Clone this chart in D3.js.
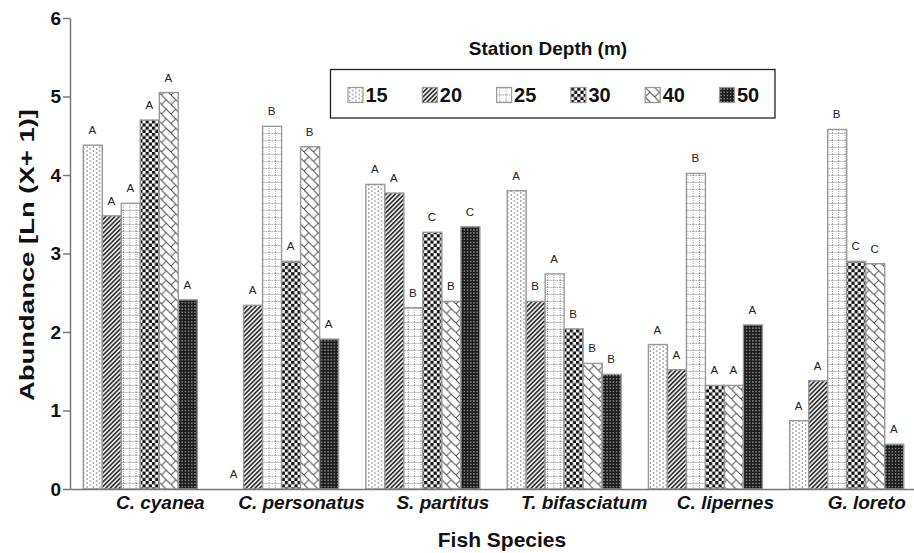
<!DOCTYPE html>
<html>
<head>
<meta charset="utf-8">
<script src="https://cdn.jsdelivr.net/npm/d3@7"></script>
<style>
  html, body { margin: 0; padding: 0; background: #fff; }
  svg { display: block; font-family: "Liberation Sans", Arial, sans-serif; }
</style>
</head>
<body>
<svg id="chart" width="914" height="553"></svg>
<script>
// ---- data ----
const species = ["C. cyanea", "C. personatus", "S. partitus", "T. bifasciatum", "C. lipernes", "G. loreto"];
const depths = ["15", "20", "25", "30", "40", "50"];
const values15 = [4.38, 0.00, 3.88, 3.80, 1.84, 0.87];
const values20 = [3.48, 2.34, 3.77, 2.39, 1.52, 1.38];
const values25 = [3.64, 4.62, 2.31, 2.74, 4.02, 4.58];
const values30 = [4.70, 2.90, 3.27, 2.04, 1.32, 2.90];
const values40 = [5.05, 4.36, 2.39, 1.60, 1.32, 2.87];
const values50 = [2.41, 1.91, 3.34, 1.46, 2.09, 0.57];
const letters15 = ["A", "A", "A", "A", "A", "A"];
const letters20 = ["A", "A", "A", "B", "A", "A"];
const letters25 = ["A", "B", "B", "A", "B", "B"];
const letters30 = ["A", "A", "C", "B", "A", "C"];
const letters40 = ["A", "B", "B", "B", "A", "C"];
const letters50 = ["A", "A", "C", "B", "A", "A"];
const yTicks = [0, 1, 2, 3, 4, 5, 6];
const yTitle = "Abundance [Ln (X+ 1)]";
const xTitle = "Fish Species";
const legendTitle = "Station Depth (m)";

const seriesValues = [values15, values20, values25, values30, values40, values50];
const seriesLetters = [letters15, letters20, letters25, letters30, letters40, letters50];

const svg = d3.select("#chart");
const defs = svg.append("defs");

// ---- patterns ----
function pat(id, w, h) {
  return defs.append("pattern").attr("id", id).attr("patternUnits", "userSpaceOnUse")
    .attr("width", w).attr("height", h);
}
let p = pat("p15", 6.33, 4);
p.append("rect").attr("width", 6.33).attr("height", 4).attr("fill", "#fff");
p.append("circle").attr("cx", 1.6).attr("cy", 1).attr("r", 0.75).attr("fill", "#666");
p.append("circle").attr("cx", 4.8).attr("cy", 3).attr("r", 0.75).attr("fill", "#666");
p = pat("p20", 3.2, 3.2).attr("patternTransform", "rotate(45)");
p.append("rect").attr("width", 3.2).attr("height", 3.2).attr("fill", "#e8e8e8");
p.append("rect").attr("x", 0).attr("width", 1.5).attr("height", 3.2).attr("fill", "#2a2a2a");
p = pat("p25", 6.33, 7);
p.append("rect").attr("width", 6.33).attr("height", 7).attr("fill", "#fff");
p.append("line").attr("x1", 3.2).attr("x2", 3.2).attr("y1", 0).attr("y2", 7)
  .attr("stroke", "#888").attr("stroke-width", 0.8).attr("stroke-dasharray", "1,1");
p.append("line").attr("x1", 0).attr("x2", 6.33).attr("y1", 0.5).attr("y2", 0.5)
  .attr("stroke", "#888").attr("stroke-width", 0.8).attr("stroke-dasharray", "1,1");
p = pat("p30", 6.33, 6.33);
p.append("rect").attr("width", 6.33).attr("height", 6.33).attr("fill", "#fff");
p.append("rect").attr("x", 0).attr("y", 0).attr("width", 3.17).attr("height", 3.17).attr("fill", "#111");
p.append("rect").attr("x", 3.17).attr("y", 3.17).attr("width", 3.17).attr("height", 3.17).attr("fill", "#111");
p = pat("p40", 9.5, 9.5);
p.append("rect").attr("width", 9.5).attr("height", 9.5).attr("fill", "#fff");
p.append("path").attr("d", "M-1,-1 L10.5,10.5 M0,9.5 L4.75,4.75")
  .attr("stroke", "#444").attr("stroke-width", 1).attr("fill", "none");
p = pat("p50", 3.17, 3.17);
p.append("rect").attr("width", 3.17).attr("height", 3.17).attr("fill", "#1c1c1c");
p.append("circle").attr("cx", 1.6).attr("cy", 1.6).attr("r", 0.8).attr("fill", "#9a9a9a");

// ---- scales ----
const y = d3.scaleLinear().domain([0, 6]).range([489, 18]);
const x0 = d3.scaleBand().domain(species).range([70, 917]).paddingInner(0.193).paddingOuter(0.094);
const x1 = d3.scaleBand().domain(depths).range([0, x0.bandwidth()]);

// ---- bars ----
const rows = [];
species.forEach((s, i) => depths.forEach((d, j) => rows.push({ s, d, v: seriesValues[j][i], l: seriesLetters[j][i] })));

svg.append("g").selectAll("rect").data(rows).join("rect")
  .attr("x", r => x0(r.s) + x1(r.d))
  .attr("y", r => y(r.v))
  .attr("width", x1.bandwidth())
  .attr("height", r => y(0) - y(r.v))
  .attr("fill", r => `url(#p${r.d})`)
  .attr("stroke", "#999").attr("stroke-width", 1.4);

svg.append("g").selectAll("text").data(rows).join("text")
  .attr("x", r => x0(r.s) + x1(r.d) + x1.bandwidth() / 2 - 0.5)
  .attr("y", r => y(r.v) - 11)
  .attr("text-anchor", "middle")
  .attr("font-size", 11.5).attr("fill", "#222")
  .text(r => r.l);

// ---- axes ----
const yAxis = svg.append("g").attr("transform", "translate(70,0)")
  .call(d3.axisLeft(y).tickValues(yTicks).tickSize(7).tickSizeOuter(0).tickPadding(2).tickFormat(d3.format("d")));
yAxis.select(".domain").attr("stroke", "#777").attr("stroke-width", 1.5);
yAxis.selectAll(".tick line").attr("stroke", "#777").attr("stroke-width", 1.5);
yAxis.selectAll(".tick text").attr("font-size", 19).attr("font-weight", "bold").attr("fill", "#111")
  .attr("font-family", "Liberation Sans, Arial, sans-serif");

const xAxis = svg.append("g").attr("transform", "translate(0,489)")
  .call(d3.axisBottom(x0).tickSize(0).tickSizeOuter(0).tickPadding(10));
xAxis.select(".domain").attr("stroke", "#777").attr("stroke-width", 1.5);
xAxis.selectAll(".tick text").attr("font-size", 19).attr("font-weight", "bold").attr("font-style", "italic")
  .attr("fill", "#111").attr("dx", 20).attr("dy", "0.55em")
  .attr("font-family", "Liberation Sans, Arial, sans-serif");

// ---- titles ----
svg.append("text").attr("transform", "translate(34,255) rotate(-90)")
  .attr("text-anchor", "middle").attr("font-size", 21).attr("font-weight", "bold").attr("fill", "#111")
  .attr("textLength", 292).attr("lengthAdjust", "spacingAndGlyphs")
  .text(yTitle);
svg.append("text").attr("x", 502).attr("y", 547)
  .attr("text-anchor", "middle").attr("font-size", 21).attr("font-weight", "bold").attr("fill", "#111")
  .text(xTitle);

// ---- legend ----
svg.append("text").attr("x", 548).attr("y", 55)
  .attr("text-anchor", "middle").attr("font-size", 19).attr("font-weight", "bold").attr("fill", "#111")
  .text(legendTitle);
svg.append("rect").attr("x", 330.5).attr("y", 69.5).attr("width", 444.5).attr("height", 48.5)
  .attr("fill", "#fff").attr("stroke", "#222").attr("stroke-width", 1.3);
const lx = d3.scaleBand().domain(depths).range([348, 348 + 6 * 74.3]);
const li = svg.append("g").selectAll("g").data(depths).join("g")
  .attr("transform", d => `translate(${lx(d)},87.5)`);
li.append("rect").attr("width", 15).attr("height", 15)
  .attr("fill", d => `url(#p${d})`).attr("stroke", "#999").attr("stroke-width", 1.2);
li.append("text").attr("x", 17.5).attr("y", 14.5)
  .attr("font-size", 20).attr("font-weight", "bold").attr("fill", "#111").text(d => d);
</script>
</body>
</html>
